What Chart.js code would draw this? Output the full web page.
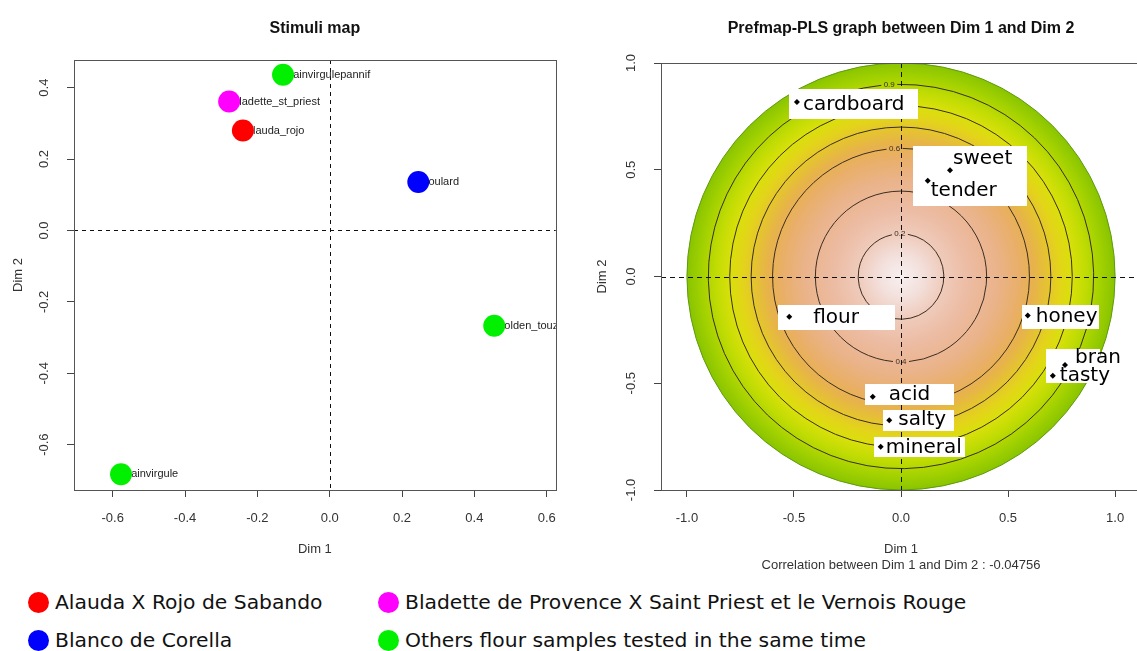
<!DOCTYPE html>
<html>
<head>
<meta charset="utf-8">
<script src="https://cdn.jsdelivr.net/npm/chart.js@4.4.1/dist/chart.umd.min.js"></script>
<style>
  html, body { margin: 0; padding: 0; background: #fff; overflow: hidden; width: 1137px; height: 651px; }
  #stimuli { position: absolute; left: 0; top: 0; }
  #prefmap { position: absolute; left: 580px; top: 0; }
  .key { position: absolute; width: 21px; height: 21px; border-radius: 50%; }
  .keytext { position: absolute; font-family: "DejaVu Sans"; font-size: 20.3px; line-height: 24px; color: #111; white-space: nowrap; }
</style>
</head>
<body>
<canvas id="stimuli" width="570" height="580"></canvas>
<canvas id="prefmap" width="570" height="580"></canvas>
<div id="legend"></div>
<script>
// ---- Stimuli map: product coordinates on the first two dimensions ----
const stimuliNames = ['painvirgulepannif', 'bladette_st_priest', 'alauda_rojo', 'boulard', 'golden_touzelle', 'painvirgule'];
const stimuliDim1 = [-0.129, -0.278, -0.240, 0.245, 0.455, -0.577];
const stimuliDim2 = [0.436, 0.361, 0.280, 0.136, -0.267, -0.683];
const stimuliGroup = ['others', 'bladette', 'alauda', 'blanco', 'others', 'others'];

const groupKeys = ['alauda', 'bladette', 'blanco', 'others'];
const groupLabels = ['Alauda X Rojo de Sabando', 'Bladette de Provence X Saint Priest et le Vernois Rouge',
                     'Blanco de Corella', 'Others flour samples tested in the same time'];

const stimuliTicksX = [-0.6, -0.4, -0.2, 0.0, 0.2, 0.4, 0.6];
const stimuliTicksY = [-0.6, -0.4, -0.2, 0.0, 0.2, 0.4];

// ---- Prefmap-PLS: attribute correlations with Dim 1 / Dim 2 ----
const attrNames = ['cardboard', 'sweet', 'tender', 'flour', 'honey', 'bran', 'tasty', 'acid', 'salty', 'mineral'];
const attrDim1 = [-0.486, 0.229, 0.125, -0.522, 0.592, 0.766, 0.709, -0.132, -0.055, -0.095];
const attrDim2 = [0.817, 0.498, 0.449, -0.188, -0.183, -0.415, -0.465, -0.563, -0.673, -0.798];

const contourLevels = [0.2, 0.4, 0.6, 0.7, 0.8, 0.9];
const contourLabelled = [0.2, 0.4, 0.6, 0.9];
const prefTicks = [-1.0, -0.5, 0.0, 0.5, 1.0];
const dimCorrelation = -0.04756;

// ---- styling ----
const groupColors = { alauda: '#ff0000', bladette: '#ff00ff', blanco: '#0000ff', others: '#00f000' };
const legendLayout = [
  { x: 28, y: 602 }, { x: 378, y: 602 }, { x: 28, y: 640 }, { x: 378, y: 640 }
];
// label text offset (dx, dy) and white box [left, top, right, bottom] relative to the marker, px
const attrLabelLayout = {
  cardboard: { dx: 6,  dy: 3,   box: [-8, -13, 121, 17] },
  sweet:     { dx: 3,  dy: -11, box: [-37, -24, 77, 3] },
  tender:    { dx: 3,  dy: 10,  box: [-15, -12, 99, 25] },
  flour:     { dx: 24, dy: 1,   box: [-11, -12, 106, 13] },
  honey:     { dx: 8,  dy: 1,   box: [-6, -11, 71, 13] },
  bran:      { dx: 10, dy: -7,  box: [-19, -16, 35, 2] },
  tasty:     { dx: 7,  dy: 0,   box: [-7, -12, 47, 7] },
  acid:      { dx: 16, dy: -2,  box: [-8, -13, 81, 8] },
  salty:     { dx: 9,  dy: 0,   box: [-6, -10, 65, 11] },
  mineral:   { dx: 5,  dy: 1,   box: [-7, -10, 84, 10] }
};
const contourLabelPos = { 0.2: { x: -0.005, side: -1 }, 0.4: { x: 0.0, side: 1 }, 0.6: { x: -0.03, side: -1 }, 0.9: { x: -0.055, side: -1 } };

Chart.defaults.font.family = 'Liberation Sans';
Chart.defaults.color = '#333';

const tickFont = { family: 'Liberation Sans', size: 13 };
const fmt1 = v => Number(v).toFixed(1);

function axisX(min, max, ticks, title, titlePad) {
  return {
    type: 'linear', min, max,
    afterBuildTicks: s => { s.ticks = ticks.map(v => ({ value: v })); },
    afterFit: s => { s.height = 90; },
    ticks: { callback: fmt1, font: tickFont, color: '#333', padding: 14, maxRotation: 0, autoSkip: false },
    grid: { display: true, drawOnChartArea: false, drawTicks: true, tickLength: 7, color: '#444' },
    border: { display: false },
    title: { display: true, text: title, font: { family: 'Liberation Sans', size: 13, lineHeight: '16px' }, color: '#333', padding: { top: 0, bottom: titlePad } }
  };
}
function axisY(min, max, ticks, width, titlePad) {
  return {
    type: 'linear', min, max,
    afterBuildTicks: s => { s.ticks = ticks.map(v => ({ value: v })); },
    afterFit: s => { s.width = width; },
    ticks: { callback: fmt1, font: tickFont, color: '#333', padding: 11, minRotation: 90, maxRotation: 90, crossAlign: 'center', autoSkip: false },
    grid: { display: true, drawOnChartArea: false, drawTicks: true, tickLength: 7, color: '#444' },
    border: { display: false },
    title: { display: true, text: 'Dim 2', font: { family: 'Liberation Sans', size: 13, lineHeight: '16px' }, color: '#333', padding: { top: titlePad, bottom: 0 } }
  };
}

function drawBox(chart) {
  const a = chart.chartArea, ctx = chart.ctx;
  ctx.save();
  ctx.strokeStyle = '#555';
  ctx.lineWidth = 1;
  ctx.setLineDash([]);
  ctx.strokeRect(Math.round(a.left) + 0.5, Math.round(a.top) + 0.5, Math.round(a.right - a.left), Math.round(a.bottom - a.top));
  ctx.restore();
}
function drawZeroLines(chart, dash) {
  const a = chart.chartArea, ctx = chart.ctx;
  const x0 = Math.round(chart.scales.x.getPixelForValue(0)) + 0.5;
  const y0 = Math.round(chart.scales.y.getPixelForValue(0)) + 0.5;
  ctx.save();
  ctx.strokeStyle = '#111';
  ctx.lineWidth = 1;
  ctx.setLineDash(dash);
  ctx.beginPath();
  ctx.moveTo(x0, a.top); ctx.lineTo(x0, a.bottom);
  ctx.moveTo(a.left, y0); ctx.lineTo(a.right, y0);
  ctx.stroke();
  ctx.restore();
}

// ---------- Stimuli map ----------
const stimuliDecor = {
  id: 'stimuliDecor',
  beforeDatasetsDraw(chart) {
    const ctx = chart.ctx, a = chart.chartArea;
    drawZeroLines(chart, [4, 4]);
    ctx.save();
    ctx.beginPath();
    ctx.rect(a.left, a.top, a.right - a.left, a.bottom - a.top);
    ctx.clip();
    ctx.font = '11px "Liberation Sans"';
    ctx.fillStyle = '#222';
    ctx.textBaseline = 'middle';
    stimuliNames.forEach((name, i) => {
      const px = chart.scales.x.getPixelForValue(stimuliDim1[i]);
      const py = chart.scales.y.getPixelForValue(stimuliDim2[i]);
      ctx.fillText(name, px + 4, py);
    });
    ctx.restore();
  },
  afterDraw(chart) { drawBox(chart); }
};

new Chart(document.getElementById('stimuli'), {
  type: 'scatter',
  data: {
    datasets: groupKeys.map((g, k) => ({
      label: groupLabels[k],
      data: stimuliNames.map((n, i) => i).filter(i => stimuliGroup[i] === g)
                        .map(i => ({ x: stimuliDim1[i], y: stimuliDim2[i] })),
      backgroundColor: groupColors[g],
      pointRadius: 11, pointHoverRadius: 11, borderWidth: 0
    }))
  },
  options: {
    responsive: false, animation: false, events: [],
    layout: { padding: { top: 0, right: 13, bottom: 0, left: 0 } },
    plugins: {
      legend: { display: false }, tooltip: { enabled: false },
      title: { display: true, text: 'Stimuli map', fullSize: false, color: '#111',
               font: { family: 'Liberation Sans', size: 16, weight: 'bold', lineHeight: 1.2 },
               padding: { top: 19, bottom: 21.8 } }
    },
    scales: {
      x: axisX(-0.707, 0.625, stimuliTicksX, 'Dim 1', 23),
      y: axisY(-0.727, 0.4775, stimuliTicksY, 74, 10)
    }
  },
  plugins: [stimuliDecor]
});

// ---------- Prefmap-PLS ----------
const prefDecor = {
  id: 'prefDecor',
  beforeDatasetsDraw(chart) {
    const ctx = chart.ctx, a = chart.chartArea;
    const xs = chart.scales.x, ys = chart.scales.y;
    const cx = xs.getPixelForValue(0), cy = ys.getPixelForValue(0);
    const rx = xs.getPixelForValue(1) - cx, ry = cy - ys.getPixelForValue(1);
    ctx.save();
    ctx.beginPath();
    ctx.rect(a.left, a.top, a.right - a.left, a.bottom - a.top);
    ctx.clip();

    // correlation disk
    const g = ctx.createRadialGradient(cx, cy, 0, cx, cy, rx);
    [[0, '#f7f0f0'], [0.1, '#f3e0dc'], [0.2, '#efcbbb'], [0.32, '#ecbba2'], [0.45, '#eab38a'],
     [0.55, '#e9af6a'], [0.62, '#e7b24c'], [0.68, '#e5c232'], [0.74, '#e3d41a'], [0.8, '#d9e00a'],
     [0.86, '#c2dc04'], [0.93, '#a4d200'], [1, '#88c400']].forEach(s => g.addColorStop(s[0], s[1]));
    ctx.fillStyle = g;
    ctx.beginPath();
    ctx.ellipse(cx, cy, rx, ry, 0, 0, Math.PI * 2);
    ctx.fill();
    ctx.strokeStyle = '#5f9a10';
    ctx.lineWidth = 1;
    ctx.stroke();

    // contour rings, broken where a level is written
    ctx.strokeStyle = '#3b2e22';
    ctx.font = '8px "Liberation Sans"';
    ctx.textAlign = 'center';
    ctx.textBaseline = 'middle';
    contourLevels.forEach(L => {
      const rL = rx * L, ryL = ry * L;
      ctx.beginPath();
      if (contourLabelled.includes(L)) {
        const p = contourLabelPos[L];
        const lx = xs.getPixelForValue(p.x) - cx;
        const theta = Math.atan2(p.side * Math.sqrt(Math.max(rL * rL - lx * lx, 0)), lx);
        const gap = 8 / rL;
        ctx.ellipse(cx, cy, rL, ryL, 0, theta + gap, theta - gap + Math.PI * 2);
        ctx.stroke();
        ctx.fillStyle = '#3b2e22';
        ctx.fillText(L.toFixed(1), cx + rL * Math.cos(theta), cy + ryL * Math.sin(theta));
      } else {
        ctx.ellipse(cx, cy, rL, ryL, 0, 0, Math.PI * 2);
        ctx.stroke();
      }
    });
    ctx.restore();

    drawZeroLines(chart, [5, 4]);

    // white label boxes
    ctx.save();
    ctx.fillStyle = '#ffffff';
    attrNames.forEach((name, i) => {
      const px = xs.getPixelForValue(attrDim1[i]), py = ys.getPixelForValue(attrDim2[i]);
      const b = attrLabelLayout[name].box;
      ctx.fillRect(Math.round(px + b[0]), Math.round(py + b[1]), Math.round(b[2] - b[0]), Math.round(b[3] - b[1]));
    });
    ctx.restore();
  },
  afterDatasetsDraw(chart) {
    const ctx = chart.ctx, xs = chart.scales.x, ys = chart.scales.y;
    ctx.save();
    ctx.font = '20px "DejaVu Sans"';
    ctx.fillStyle = '#000';
    ctx.textBaseline = 'middle';
    attrNames.forEach((name, i) => {
      const px = xs.getPixelForValue(attrDim1[i]), py = ys.getPixelForValue(attrDim2[i]);
      const l = attrLabelLayout[name];
      ctx.fillText(name, px + l.dx, py + l.dy);
    });
    ctx.restore();
  },
  afterDraw(chart) { drawBox(chart); }
};

new Chart(document.getElementById('prefmap'), {
  type: 'scatter',
  data: {
    datasets: [{
      label: 'attributes',
      data: attrNames.map((n, i) => ({ x: attrDim1[i], y: attrDim2[i] })),
      pointStyle: 'rectRot', pointRadius: 3, pointHoverRadius: 3,
      backgroundColor: '#000', borderWidth: 0
    }]
  },
  options: {
    responsive: false, animation: false, events: [],
    layout: { padding: { top: 0, right: 9, bottom: 0, left: 0 } },
    plugins: {
      legend: { display: false }, tooltip: { enabled: false },
      title: { display: true, text: 'Prefmap-PLS graph between Dim 1 and Dim 2', fullSize: false, color: '#111',
               font: { family: 'Liberation Sans', size: 16, weight: 'bold', lineHeight: 1.2 },
               padding: { top: 19, bottom: 24.8 } }
    },
    scales: {
      x: axisX(-1.121, 1.121, prefTicks, ['Dim 1', 'Correlation between Dim 1 and Dim 2 : ' + dimCorrelation], 7),
      y: axisY(-1.0, 1.0, prefTicks, 81, 14)
    }
  },
  plugins: [prefDecor]
});

// ---------- shared legend ----------
const legendEl = document.getElementById('legend');
groupKeys.forEach((g, k) => {
  const pos = legendLayout[k];
  const dot = document.createElement('div');
  dot.className = 'key';
  dot.style.left = pos.x + 'px';
  dot.style.top = (pos.y - 10) + 'px';
  dot.style.background = groupColors[g];
  const txt = document.createElement('div');
  txt.className = 'keytext';
  txt.style.left = (pos.x + 27) + 'px';
  txt.style.top = (pos.y - 12) + 'px';
  txt.textContent = groupLabels[k];
  legendEl.appendChild(dot);
  legendEl.appendChild(txt);
});
</script>
</body>
</html>
